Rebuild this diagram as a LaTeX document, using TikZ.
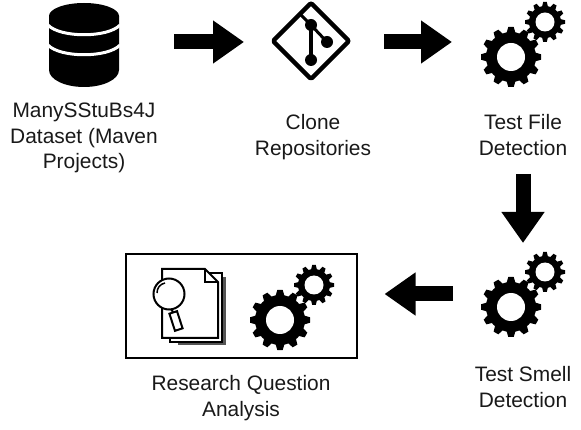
\documentclass[tikz,border=0pt]{standalone}
\usepackage{fontspec}
\setmainfont{Liberation Sans}
\usetikzlibrary{arrows.meta}
\definecolor{flowink}{HTML}{000000}
\definecolor{flowgrey}{HTML}{555555}
\tikzset{
  flow label/.style={font=\fontsize{20.9}{25.7}\selectfont, text=black!90, align=center, inner sep=0pt},
  flow icon/.style={inner sep=0pt, outer sep=0pt, minimum width=#1},
  flow arrow/.style={-{Triangle[length=31pt,width=41pt]}, line width=15pt, draw=flowink},
  flow box/.style={draw=flowink, line width=2pt, fill=white, inner sep=0pt, outer sep=0pt, minimum width=231pt, minimum height=103pt},
  doc page/.style={draw=flowink, line width=2pt, fill=white, line join=miter},
  pics/gearset/.style={code={
    \gearwheel{-12}{12}{30}{25}{14}
    \gearwheel{22}{-23}{20}{16}{9.5}
  }}
}
% one toothed wheel: x, y, tip radius, body radius, hole radius
\newcommand{\gearwheel}[5]{
  \fill[flowink] (#1,#2) circle (#4);
  \foreach \a in {0,30,...,330}
    \fill[flowink, shift={(#1,#2)}, rotate=\a] (#4-1,-0.15*#3) -- (#3,-0.09*#3) -- (#3,0.09*#3) -- (#4-1,0.15*#3) -- cycle;
  \fill[white] (#1,#2) circle (#5);
}

\begin{document}
\begin{tikzpicture}[x=1pt, y=-1pt]
  \useasboundingbox[fill=white] (0,0) rectangle (581,430);

  % icons
  \node[flow icon=70pt, minimum height=84pt] (dataset) at (84,42) {};
  \node[flow icon=78pt, minimum height=78pt] (clone) at (311,42) {};
  \node[flow icon=84pt, minimum height=84pt] (filedetect) at (523,42) {};
  \node[flow icon=84pt, minimum height=84pt] (smelldetect) at (523,294) {};
  \node[flow box] (analysis) at (241,306) {};

  % database
  \fill[flowink] (49,16) -- (49,70) arc[start angle=180, end angle=0, x radius=35, y radius=17] -- (119,16) -- cycle;
  \fill[flowink] (84,16) ellipse[x radius=35, y radius=13];
  \draw[white, line width=3pt] (48,25) .. controls (60,38) and (108,38) .. (120,25);
  \draw[white, line width=3pt] (48,45) .. controls (60,58) and (108,58) .. (120,45);

  % git
  \draw[flowink, line width=4.5pt, line join=round, rounded corners=2pt] (311,3) -- (349,41) -- (311,79) -- (273,41) -- cycle;
  \draw[flowink, line width=3pt] (299,13) -- (311,25) -- (327,42);
  \draw[flowink, line width=4pt] (311,25) -- (311,60);
  \foreach \p in {(311,25),(327,42),(311,60)}
    \fill[flowink] \p circle (6);

  % gears
  \pic at (523,45) {gearset};
  \pic at (523,295) {gearset};
  \pic at (292,308) {gearset};

  % documents
  \fill[flowgrey] (178,277) -- (226,277) -- (226,345) -- (178,345) -- cycle;
  \draw[doc page] (170,273) -- (222,273) -- (222,342) -- (170,342) -- cycle;
  \draw[doc page] (162,269) -- (205,269) -- (218,282) -- (218,338) -- (162,338) -- cycle;
  \draw[flowink, line width=2pt] (205,269) -- (205,282) -- (218,282);

  % magnifier
  \draw[flowink, line width=2pt, fill=white] (169,294) circle (15.5);
  \draw[flowink, line width=1.5pt] (157,293) .. controls (157,288) and (160,284) .. (165,283);
  \draw[flowink, line width=2pt] (171,309) -- (173,312);
  \draw[flowink, line width=2pt, fill=white, rotate around={18:(176,321)}] (172,312) rectangle (180,330);

  % arrows
  \draw[flow arrow, shorten <=55pt, shorten >=28pt] (dataset) -- (clone);
  \draw[flow arrow, shorten <=34pt, shorten >=29pt] (clone) -- (filedetect);
  \draw[flow arrow] (523,174) coordinate (filearrow) -- (523,243) coordinate (smellarrow);
  \draw[flow arrow, shorten <=28pt, shorten >=28pt] (smelldetect.west) -- (smelldetect.west -| analysis.east);

  % labels
  \node[flow label] (datasetlabel) at (84,138) {ManySStuBs4J\\Dataset (Maven\\Projects)};
  \node[flow label] (clonelabel) at (313,137) {Clone\\Repositories};
  \node[flow label] (filelabel) at (523,135) {Test File\\Detection};
  \node[flow label] (smelllabel) at (523,387) {Test Smell\\Detection};
  \node[flow label] (analysislabel) at (241,398) {Research Question\\Analysis};
\end{tikzpicture}
\end{document}
